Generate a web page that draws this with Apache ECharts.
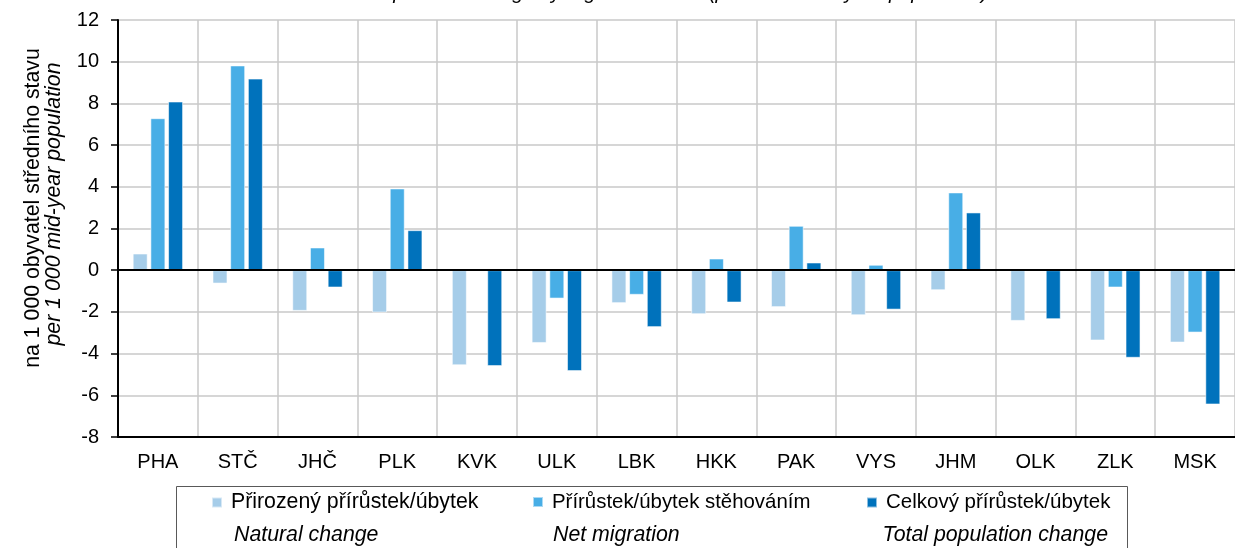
<!DOCTYPE html>
<html>
<head>
<meta charset="utf-8">
<script src="https://cdn.jsdelivr.net/npm/echarts@6/dist/echarts.min.js"></script>
<style>
  html, body { margin: 0; padding: 0; background: #fff; }
  #chart { width: 1235px; height: 548px; }
</style>
</head>
<body>
<div id="chart"></div>
<script>
// kraje
const regions = ['PHA', 'STČ', 'JHČ', 'PLK', 'KVK', 'ULK', 'LBK', 'HKK', 'PAK', 'VYS', 'JHM', 'OLK', 'ZLK', 'MSK'];

const seriesNames = ['Přirozený přírůstek/úbytek', 'Přírůstek/úbytek stěhováním', 'Celkový přírůstek/úbytek'];
const seriesNamesEn = ['Natural change', 'Net migration', 'Total population change'];

// na 1 000 obyvatel
const naturalChange = [0.80, -0.64, -1.95, -2.03, -4.56, -3.49, -1.58, -2.11, -1.77, -2.16, -0.96, -2.43, -3.37, -3.47];
const netMigration = [7.29, 9.82, 1.09, 3.92, 0.01, -1.36, -1.18, 0.56, 2.13, 0.26, 3.73, 0.04, -0.83, -2.99];
const totalChange = [8.09, 9.19, -0.83, 1.92, -4.60, -4.84, -2.73, -1.55, 0.37, -1.89, 2.77, -2.35, -4.20, -6.44];

const yMin = -8, yMax = 12, yStep = 2;

const colors = ['#a6cde9', '#48aee6', '#0072bc'];
const font = '"Liberation Sans", Arial, sans-serif';
const fs = 20;
const fsLeg = 21.3; // popisek osy, anglické texty
const legendLeft = [211, 532, 866];
const legendFs = [21.3, 20.4, 20.5];

const chart = echarts.init(document.getElementById('chart'));

function barSeries(i, data) {
  let s = {
    name: seriesNames[i],
    type: 'bar',
    data: data,
    barWidth: 15,
    barGap: '18%',
    itemStyle: {
      color: colors[i],
      borderColor: 'rgba(255,255,255,0.55)',
      borderWidth: 1
    }
  };
  return s;
}

const zeroLine = barSeries(0, naturalChange);
zeroLine.markLine = {
  silent: true,
  symbol: 'none',
  label: { show: false },
  lineStyle: { color: '#000', width: 2, type: 'solid' },
  data: [{ yAxis: 0 }]
};

// jedna legenda na položku, ať sedí pozice
const legends = seriesNames.map((name, i) => ({
  data: [name],
  left: legendLeft[i],
  top: 492,
  padding: 0,
  itemWidth: 10,
  itemHeight: 10,
  icon: 'rect',
  textStyle: { fontSize: legendFs[i], color: '#000', fontFamily: font, padding: [0, 0, 0, 4] }
}));

let option = {
  animation: false,
  color: colors,
  textStyle: { fontFamily: font },
  grid: { left: 118, top: 20, width: 1126, height: 417 },
  legend: legends,
  xAxis: [{
    type: 'category',
    data: regions,
    position: 'bottom',
    axisLine: { onZero: false, lineStyle: { color: '#000', width: 2 } },
    axisTick: { show: false },
    axisLabel: { fontSize: fs, color: '#000', margin: 15, fontFamily: font },
    splitLine: { show: true, interval: 0, lineStyle: { color: '#c8c8c8', width: 1.5 } }
  }, {
    type: 'category',
    data: regions,
    position: 'top',
    axisLine: { lineStyle: { color: '#000', width: 2 } },
    axisTick: { show: false },
    axisLabel: { show: false }
  }],
  yAxis: {
    type: 'value',
    min: yMin,
    max: yMax,
    interval: yStep,
    axisLine: { show: true, lineStyle: { color: '#000', width: 2 } },
    axisTick: { show: true, length: 7, lineStyle: { color: '#000', width: 1.5 } },
    axisLabel: { fontSize: fs, color: '#000', margin: 19, fontFamily: font },
    splitLine: { lineStyle: { color: '#c8c8c8', width: 1.5 } }
  },
  graphic: [
    // nadpis (oříznutý nahoře)
    {
      type: 'text',
      x: 988, y: 3,
      style: {
        text: 'Population change by regions in 2023 (per 1 000 mid-year population)',
        align: 'right', verticalAlign: 'bottom',
        font: 'italic 20px ' + font, fill: '#000'
      }
    },
    {
      type: 'text',
      x: 33, y: 208, rotation: Math.PI / 2,
      style: {
        text: 'na 1 000 obyvatel středního stavu',
        align: 'center', verticalAlign: 'middle',
        font: fsLeg + 'px ' + font, fill: '#000'
      }
    },
    {
      type: 'text',
      x: 54, y: 204, rotation: Math.PI / 2,
      style: {
        text: 'per 1 000 mid-year population',
        align: 'center', verticalAlign: 'middle',
        font: 'italic ' + fsLeg + 'px ' + font, fill: '#000'
      }
    },
    // rámeček legendy
    {
      type: 'rect',
      shape: { x: 176.5, y: 486.5, width: 951, height: 90 },
      style: { fill: 'none', stroke: '#595959', lineWidth: 1 },
      z: -1
    },
    {
      type: 'text', x: 234, y: 535,
      style: { text: seriesNamesEn[0], align: 'left', verticalAlign: 'middle', font: 'italic ' + fsLeg + 'px ' + font, fill: '#000' }
    },
    {
      type: 'text', x: 553, y: 535,
      style: { text: seriesNamesEn[1], align: 'left', verticalAlign: 'middle', font: 'italic ' + fsLeg + 'px ' + font, fill: '#000' }
    },
    {
      type: 'text', x: 1108, y: 535,
      style: { text: seriesNamesEn[2], align: 'right', verticalAlign: 'middle', font: 'italic ' + fsLeg + 'px ' + font, fill: '#000' }
    }
  ],
  series: [
    zeroLine,
    barSeries(1, netMigration),
    barSeries(2, totalChange)
  ]
};

chart.setOption(option);
</script>
</body>
</html>
